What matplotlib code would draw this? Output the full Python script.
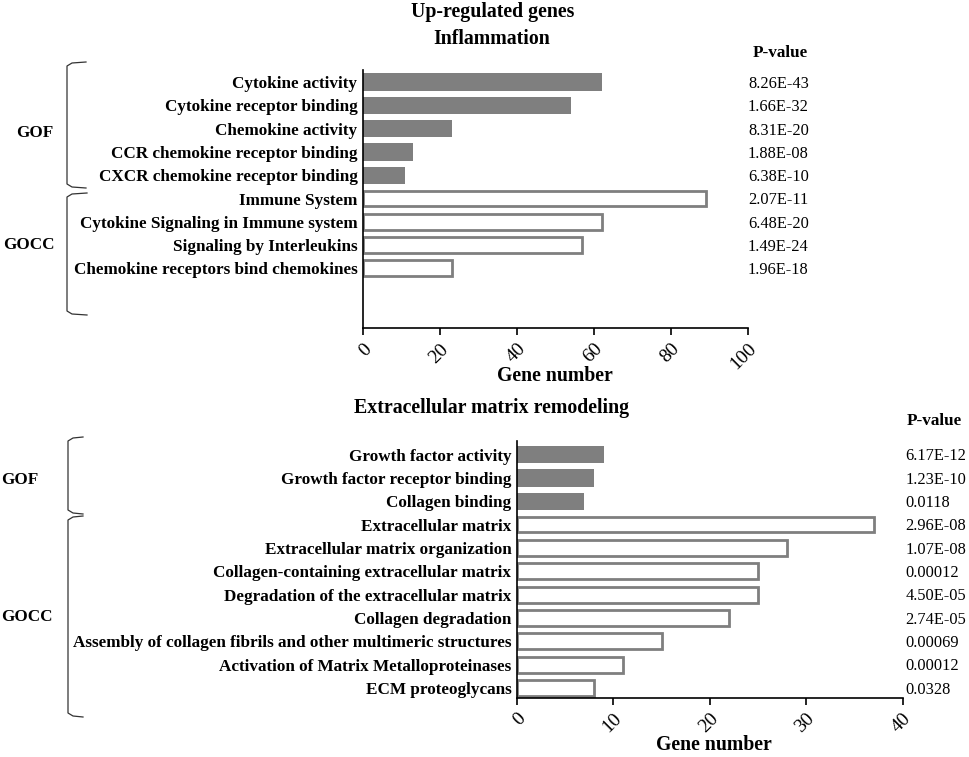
import matplotlib
matplotlib.use('Agg')
import matplotlib.pyplot as plt
from matplotlib.lines import Line2D
from matplotlib.transforms import blended_transform_factory

W, H = 969, 757
plt.rcParams['font.family'] = ['Liberation Serif', 'DejaVu Serif']

# Inflammation
infl_terms = ['Cytokine activity', 'Cytokine receptor binding', 'Chemokine activity',
              'CCR chemokine receptor binding', 'CXCR chemokine receptor binding',
              'Immune System', 'Cytokine Signaling in Immune system',
              'Signaling by Interleukins', 'Chemokine receptors bind chemokines']
infl_counts = [62, 54, 23, 13, 11, 89, 62, 57, 23]
infl_pvals = ['8.26E-43', '1.66E-32', '8.31E-20', '1.88E-08', '6.38E-10',
              '2.07E-11', '6.48E-20', '1.49E-24', '1.96E-18']
infl_gof_n = 5

# Extracellular matrix remodeling
ecm_terms = ['Growth factor activity', 'Growth factor receptor binding', 'Collagen binding',
             'Extracellular matrix', 'Extracellular matrix organization',
             'Collagen-containing extracellular matrix', 'Degradation of the extracellular matrix',
             'Collagen degradation',
             'Assembly of collagen fibrils and other multimeric structures',
             'Activation of Matrix Metalloproteinases', 'ECM proteoglycans']
ecm_counts = [9, 8, 7, 37, 28, 25, 25, 22, 15, 11, 8]
ecm_pvals = ['6.17E-12', '1.23E-10', '0.0118', '2.96E-08', '1.07E-08', '0.00012',
             '4.50E-05', '2.74E-05', '0.00069', '0.00012', '0.0328']
ecm_gof_n = 3

GRAY = '#7f7f7f'
FS = 12.3
PV_FS = 11.8
TITLE_FS = 14.3


def fx(x):
    return x / W


def fy(y):
    return 1 - y / H


def px_axes(left, top, right, bottom):
    return fig.add_axes([fx(left), fy(bottom), (right - left) / W, (bottom - top) / H])


def draw_panel(ax, terms, counts, pvals, gof_n, xmax, step, ylim, pv_x):
    ys = list(range(len(terms)))
    for i, (y, c) in enumerate(zip(ys, counts)):
        if i < gof_n:
            ax.barh(y, c, height=0.74, color=GRAY, edgecolor='none', zorder=2)
        else:
            ax.barh(y, c, height=0.68, facecolor='white', edgecolor=GRAY,
                    linewidth=2, zorder=2)
    ax.set_ylim(*ylim)
    ax.set_xlim(0, xmax)
    ax.set_yticks(ys)
    ax.set_yticklabels(terms, fontsize=FS, fontweight='bold')
    ax.tick_params(axis='y', length=0, pad=4)
    ax.set_xticks(range(0, xmax + 1, step))
    ax.set_xticklabels([str(v) for v in range(0, xmax + 1, step)], fontsize=14,
                       rotation=45, ha='right', va='top', rotation_mode='anchor')
    ax.tick_params(axis='x', length=5, width=1.2, pad=4)
    for s in ['top', 'right']:
        ax.spines[s].set_visible(False)
    for s in ['left', 'bottom']:
        ax.spines[s].set_linewidth(1.2)
    tr = blended_transform_factory(ax.transAxes, ax.transData)
    for y, p in zip(ys, pvals):
        ax.text(pv_x, y + 0.08, p, transform=tr, fontsize=PV_FS, ha='left', va='center')


def bracket(x, top, bottom, arm):
    xs = [x + arm, x + 5, x, x, x + 5, x + arm]
    ys = [top, top + 1, top + 4, bottom - 4, bottom - 1, bottom]
    fig.add_artist(Line2D([fx(v) for v in xs], [fy(v) for v in ys],
                          color='#333333', linewidth=0.9))


fig = plt.figure(figsize=(W / 100, H / 100), dpi=100)

ax1 = px_axes(363, 70, 748, 328)
draw_panel(ax1, infl_terms, infl_counts, infl_pvals, infl_gof_n, 100, 20,
           (10.56, -0.52), 1.0)

ax2 = px_axes(517, 441, 902.5, 697.5)
draw_panel(ax2, ecm_terms, ecm_counts, ecm_pvals, ecm_gof_n, 40, 10,
           (10.41, -0.58), 1.008)

# titles
fig.text(fx(493), fy(12), 'Up-regulated genes', fontsize=TITLE_FS, fontweight='bold',
         ha='center', va='center')
fig.text(fx(492), fy(39), 'Inflammation', fontsize=TITLE_FS, fontweight='bold',
         ha='center', va='center')
fig.text(fx(492), fy(408), 'Extracellular matrix remodeling', fontsize=TITLE_FS,
         fontweight='bold', ha='center', va='center')
fig.text(fx(780), fy(53), 'P-value', fontsize=FS, fontweight='bold', ha='center', va='center')
fig.text(fx(934), fy(421), 'P-value', fontsize=FS, fontweight='bold', ha='center', va='center')
fig.text(fx(555), fy(376), 'Gene number', fontsize=14.2, fontweight='bold', ha='center', va='center')
fig.text(fx(714), fy(745), 'Gene number', fontsize=14.2, fontweight='bold', ha='center', va='center')

# GOF / GOCC brackets
bracket(67, 62, 188, 19)
bracket(67, 193, 315, 20)
bracket(68, 437, 514, 15)
bracket(68, 516, 717, 15)
fig.text(fx(35), fy(133), 'GOF', fontsize=FS, fontweight='bold', ha='center', va='center')
fig.text(fx(29), fy(245), 'GOCC', fontsize=FS, fontweight='bold', ha='center', va='center')
fig.text(fx(20), fy(480), 'GOF', fontsize=FS, fontweight='bold', ha='center', va='center')
fig.text(fx(27), fy(617), 'GOCC', fontsize=FS, fontweight='bold', ha='center', va='center')

fig.savefig('out.png', dpi=100)
